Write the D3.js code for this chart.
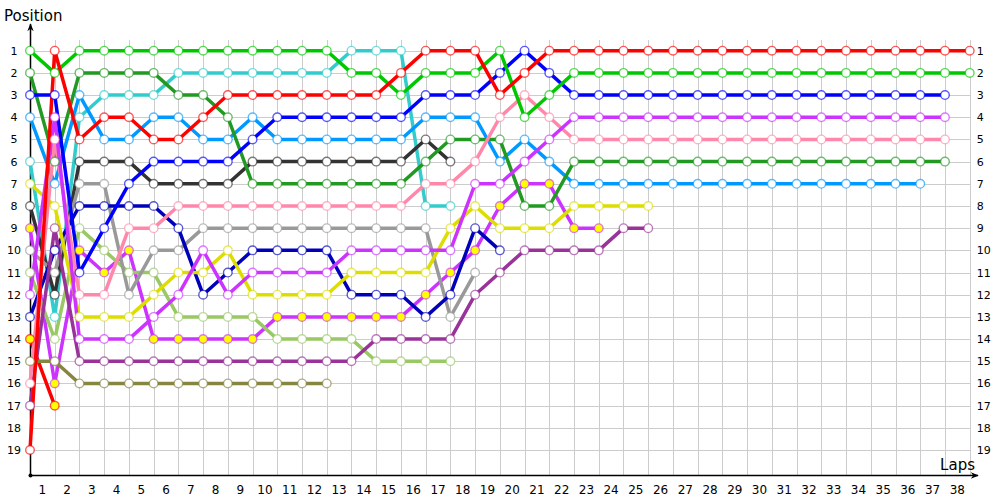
<!DOCTYPE html>
<html><head><meta charset="utf-8">
<script src="https://cdn.jsdelivr.net/npm/d3@7"></script>
<style>body{margin:0;background:#fff}svg{display:block}</style>
</head><body><svg id="c" width="1000" height="500"></svg>
<script>
// ---- data ----
const lapTicks = d3.range(1, 39);           // 1..38
const posTicks = d3.range(1, 20);           // 1..19
const seriesNames  = ["Red","Green","Blue","Magenta","Pink","DarkGreen","LightBlue","Yellow","Purple","Navy","Gray","DarkGray","Cyan","LightGreen","Olive","MagentaY","RedY"];
const seriesColors = ["#ff0000","#00c800","#0000ff","#cc33ff","#ff88aa","#229922","#0099ff","#dddd00","#993399","#0000bb","#999999","#333333","#33cccc","#99c864","#868640","#cc33ff","#ff0000"];
const seriesYellow = [false,false,false,false,false,false,false,false,false,false,false,false,false,false,false,true,true];
// positions per lap, starting at lap 0
const red        = [19,1,5,4,4,5,5,4,3,3,3,3,3,3,3,2,1,1,1,3,2,1,1,1,1,1,1,1,1,1,1,1,1,1,1,1,1,1,1];
const green      = [1,2,1,1,1,1,1,1,1,1,1,1,1,2,2,3,2,2,2,1,4,3,2,2,2,2,2,2,2,2,2,2,2,2,2,2,2,2,2];
const blue       = [3,3,11,9,7,6,6,6,6,5,4,4,4,4,4,4,3,3,3,2,1,2,3,3,3,3,3,3,3,3,3,3,3,3,3,3,3,3];
const magenta    = [12,4,14,14,14,13,12,10,12,11,11,11,11,10,10,10,10,10,7,7,6,5,4,4,4,4,4,4,4,4,4,4,4,4,4,4,4,4];
const pink       = [16,5,12,12,9,9,8,8,8,8,8,8,8,8,8,8,7,7,6,4,3,4,5,5,5,5,5,5,5,5,5,5,5,5,5,5,5,5];
const darkGreen  = [2,6,2,2,2,2,3,3,4,7,7,7,7,7,7,7,6,5,5,5,8,8,6,6,6,6,6,6,6,6,6,6,6,6,6,6,6,6];
const lightBlue  = [4,7,3,5,5,4,4,5,5,4,5,5,5,5,5,5,4,4,4,6,5,6,7,7,7,7,7,7,7,7,7,7,7,7,7,7,7];
const yellow     = [7,8,13,13,13,12,11,11,10,12,12,12,12,11,11,11,11,9,8,9,9,9,8,8,8,8];
const purple     = [17,9,15,15,15,15,15,15,15,15,15,15,15,15,14,14,14,14,12,11,10,10,10,10,9,9];
const navy       = [13,10,8,8,8,8,9,12,11,10,10,10,10,12,12,12,13,12,9,10];
const gray       = [10,11,7,7,12,10,10,9,9,9,9,9,9,9,9,9,9,13,11];
const darkGray   = [8,12,6,6,6,7,7,7,7,6,6,6,6,6,6,6,5,6];
const cyan       = [6,13,4,3,3,3,2,2,2,2,2,2,2,1,1,1,8,8];
const lightGreen = [11,14,9,10,11,11,13,13,13,13,14,14,14,14,15,15,15,15];
const olive      = [15,15,16,16,16,16,16,16,16,16,16,16,16];
const magentaY   = [9,16,10,11,10,14,14,14,14,14,13,13,13,13,13,13,12,11,10,8,7,7,9,9];
const redY       = [14,17];
const seriesValues = [red,green,blue,magenta,pink,darkGreen,lightBlue,yellow,purple,navy,gray,darkGray,cyan,lightGreen,olive,magentaY,redY];

const table = seriesNames.map((n,i)=>({name:n,color:seriesColors[i],yel:seriesYellow[i],
  pts:seriesValues[i].map((p,lap)=>({lap,p}))}));

// ---- layout ----
const svg = d3.select("#c");
const x = d3.scaleLinear().domain([0,38]).range([30,969.7]);
const y = d3.scaleLinear().domain([1,19]).range([50.7,450]);
const xb = d3.scaleBand().domain(lapTicks).range([30,969.7]);
const axisY = 475, gridTop = 40;
const font = "DejaVu Sans, Verdana, sans-serif";

// grid
const g = svg.append("g").attr("stroke","#cccccc").attr("stroke-width",1).attr("shape-rendering","crispEdges");
g.selectAll(".v").data(lapTicks).join("line")
  .attr("x1",d=>Math.round(x(d))+0.5).attr("x2",d=>Math.round(x(d))+0.5)
  .attr("y1",gridTop).attr("y2",axisY);
g.selectAll(".h").data(posTicks).join("line")
  .attr("x1",30).attr("x2",x(38))
  .attr("y1",d=>Math.round(y(d))+0.5).attr("y2",d=>Math.round(y(d))+0.5);

// axes labels
const la = svg.append("g").attr("transform","translate(30,0)")
  .call(d3.axisLeft(y).tickValues(posTicks).tickSize(0).tickPadding(16));
la.select(".domain").remove();
la.selectAll("text").attr("text-anchor","middle").attr("font-family",font).attr("font-size",11).attr("fill","#000");
const ra = svg.append("g").attr("transform",`translate(${x(38)},0)`)
  .call(d3.axisRight(y).tickValues(posTicks).tickSize(0).tickPadding(7));
ra.select(".domain").remove();
ra.selectAll("text").attr("font-family",font).attr("font-size",11).attr("fill","#000");
const ba = svg.append("g").attr("transform",`translate(0,${axisY})`)
  .call(d3.axisBottom(xb).tickSize(0).tickPadding(10));
ba.select(".domain").remove();
ba.selectAll("text").attr("font-family",font).attr("font-size",12).attr("fill","#000");

// axis lines with arrows
const defs = svg.append("defs");
defs.append("marker").attr("id","arr").attr("viewBox","0 0 10 10").attr("refX",9).attr("refY",5)
  .attr("markerWidth",10).attr("markerHeight",8).attr("markerUnits","userSpaceOnUse").attr("orient","auto")
  .append("path").attr("d","M0,1 L10,5 L0,9 L3,5 Z").attr("fill","#000");
svg.append("line").attr("x1",30.5).attr("x2",30.5).attr("y1",axisY).attr("y2",24)
  .attr("stroke","#000").attr("stroke-width",1.5).attr("marker-end","url(#arr)");
svg.append("line").attr("x1",30).attr("x2",978).attr("y1",axisY+0.5).attr("y2",axisY+0.5)
  .attr("stroke","#000").attr("stroke-width",1.5).attr("marker-end","url(#arr)");
svg.append("circle").attr("cx",30.5).attr("cy",axisY+0.5).attr("r",2).attr("fill","#000");

svg.append("text").attr("x",4).attr("y",21).text("Position")
  .attr("font-family",font).attr("font-size",15).attr("fill","#000");
svg.append("text").attr("x",975).attr("y",470).attr("text-anchor","end").text("Laps")
  .attr("font-family",font).attr("font-size",15).attr("fill","#000");

// lines
const line = d3.line().x(d=>x(d.lap)).y(d=>y(d.p));
const drawOrder = table.slice().reverse();
svg.append("g").selectAll("path").data(drawOrder).join("path")
  .attr("d",d=>line(d.pts)).attr("fill","none").attr("stroke",d=>d.color)
  .attr("stroke-width",3.5).attr("stroke-linejoin","round").attr("stroke-linecap","round");
// markers
const mg = svg.append("g");
drawOrder.forEach(s=>{
  mg.append("g").selectAll("circle").data(s.pts).join("circle")
    .attr("cx",d=>x(d.lap)).attr("cy",d=>y(d.p)).attr("r",4.3)
    .attr("fill",s.yel?"#ffff00":"#ffffff")
    .attr("stroke",s.color).attr("stroke-opacity",0.65).attr("stroke-width",1.4);
});
</script></body></html>
